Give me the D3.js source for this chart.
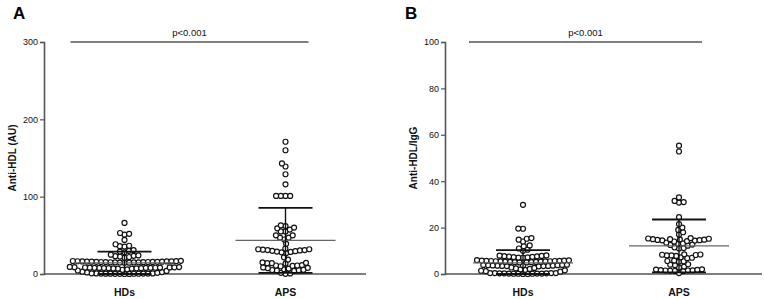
<!DOCTYPE html>
<html>
<head>
<meta charset="utf-8">
<script src="https://cdnjs.cloudflare.com/ajax/libs/d3/7.8.5/d3.min.js"></script>
<style>
  body { margin: 0; background: #fff; }
  svg { font-family: "Liberation Sans", Arial, sans-serif; }
</style>
</head>
<body>
<div id="chart"></div>
<script>
const groups = ["HDs", "APS"];

// panel A, anti-HDL (AU)
const hdsAU = [
  0, 0.1, 0.2, 0.2, 0.3, 0.3, 0.4, 0.4, 0.5, 0.5, 0.6, 0.7, 0.8, 0.9,
  1.5, 2, 2.5, 3, 4, 4.5, 5.5, 6,
  7, 7, 7.2, 7.3, 7.5, 7.5, 7.6, 7.8, 7.8, 8, 8, 8.1, 8.2, 8.3, 8.4, 8.5, 8.6, 8.8, 9, 9.2,
  14.5, 14.6, 14.8, 15, 15, 15.1, 15.2, 15.3, 15.4, 15.5, 15.5, 15.6, 15.7, 15.8, 16, 16,
  16.1, 16.2, 16.3, 16.4, 16.5, 16.6, 16.8, 17,
  21, 22, 22.5, 23, 23.5, 24, 25,
  28, 29, 30, 31,
  35.5, 36, 36.5, 38.5, 44, 51, 52, 53, 66
];
const apsAU = [
  0.2, 0.8, 1.5,
  4, 4.5, 5, 5.2, 5.5, 6, 7, 7.5, 8, 8.5,
  10, 10.5, 11, 11, 11.5, 13.5, 14, 14, 14.5, 15,
  27, 28, 28.5, 29, 29.5, 30, 30.5, 31, 31, 31.5, 32, 32, 33,
  18.6, 21.6,
  39, 44.6, 47, 47, 50, 50, 55, 55, 57.5, 59, 60, 62, 63,
  101, 101, 101, 101, 116, 129, 139, 143, 160, 171
];
const meanAU = [14.5, 43.5];
const sdAU = [14.5, 42];

// panel B, anti-HDL/IgG
const hdsIgG = [
  0, 0, 0.1, 0.1, 0.1, 0.2, 0.2, 0.2, 0.3, 0.3, 0.3, 0.4, 0.4, 0.4, 0.4,
  1, 1.2, 1.4, 1.6, 1.8, 2, 2.2, 2.4, 2.6, 2.8,
  3.3, 3.4, 3.4, 3.5, 3.5, 3.6, 3.6, 3.7, 3.7, 3.8, 3.8, 3.9, 3.9, 4,
  5, 5, 5.1, 5.1, 5.2, 5.2, 5.3, 5.3, 5.4, 5.4, 5.5, 5.5, 5.6, 5.6, 5.7, 5.7, 5.8, 5.8, 5.9, 6,
  7, 7.1, 7.2, 7.3, 7.4, 7.5, 7.6, 7.7, 7.8, 7.9, 8,
  10, 10.5, 11, 12, 12.3, 14, 14.8, 15.2, 15.5, 19.5, 19.6, 29.8
];
const apsIgG = [
  0.4,
  1.2, 1.3, 1.4, 1.5, 1.5, 1.6, 1.7, 1.8, 1.9, 2,
  2.8, 3.2, 3.8, 4, 4.2, 5.3, 5.5, 5.6, 5.8, 6.8, 7, 7.2,
  7.8, 8, 8, 8.2, 8.3, 8.4, 8.5,
  11, 11.2, 11.5, 12.2, 12.5, 12.7, 13, 13.2, 13.5,
  14, 14.2, 14.4, 14.5, 14.6, 14.7, 14.8, 14.9, 15, 15, 15.2, 15.3,
  15.5, 17, 18, 19, 20, 21.5, 24.5, 30.8, 31, 31.5, 33, 52.8, 55.3
];
const meanIgG = [4.8, 12.1];
const sdIgG = [5.5, 11.4];

const ticksAU = [0, 100, 200, 300];
const ticksIgG = [0, 20, 40, 60, 80, 100];

const panels = [
  { letter: "A", label: "Anti-HDL (AU)", values: [hdsAU, apsAU], mean: meanAU, sd: sdAU,
    ticks: ticksAU, max: 300, left: 44, right: 366, axisEnd: 366, labelX: 16, letterX: 13 },
  { letter: "B", label: "Anti-HDL/IgG", values: [hdsIgG, apsIgG], mean: meanIgG, sd: sdIgG,
    ticks: ticksIgG, max: 100, left: 445, right: 757, axisEnd: 762, labelX: 417, letterX: 405 }
];

const width = 765, height = 299, plotTop = 42, plotBottom = 274;
const r = 2.5, diam = 4.7;
const axisColor = "#555";

const svg = d3.select("#chart").append("svg")
  .attr("width", width)
  .attr("height", height);

// simple greedy beeswarm: each point goes as close to the centre as it can
function swarm(vals, y) {
  const placed = [];
  const sorted = vals.slice().sort((a, b) => a - b);
  sorted.forEach((v, i) => {
    const py = y(v);
    const near = placed.filter(p => Math.abs(p.y - py) < diam);
    const cands = [0];
    near.forEach(p => {
      const dx = Math.sqrt(diam * diam - (p.y - py) ** 2);
      cands.push(p.x + dx, p.x - dx);
    });
    const ok = cands.filter(c => near.every(p => (p.x - c) ** 2 + (p.y - py) ** 2 >= diam * diam - 0.01));
    const side = i % 2 ? 1 : -1;
    ok.sort((a, b) => Math.abs(a) - Math.abs(b) || side * (b - a));
    placed.push({ x: ok[0], y: py });
  });
  return placed;
}

panels.forEach(p => {
  const g = svg.append("g");

  const y = d3.scaleLinear().domain([0, p.max]).range([plotBottom, plotTop]);
  const x = d3.scaleBand().domain(groups).range([p.left, p.right]);

  // y axis
  const yAxis = g.append("g")
    .attr("transform", `translate(${p.left},0)`)
    .call(d3.axisLeft(y).tickValues(p.ticks).tickSize(4).tickPadding(2));
  yAxis.select(".domain").attr("stroke", axisColor).attr("stroke-width", 1.6);
  yAxis.selectAll(".tick line").attr("stroke", axisColor).attr("stroke-width", 1.2);
  yAxis.selectAll("text").attr("fill", "#111").style("font-size", "9px");

  // x axis
  g.append("line")
    .attr("x1", p.left).attr("x2", p.axisEnd)
    .attr("y1", plotBottom).attr("y2", plotBottom)
    .attr("stroke", axisColor).attr("stroke-width", 1.6);

  g.selectAll(".xlab")
    .data(groups)
    .join("text")
    .attr("x", d => x(d) + x.bandwidth() / 2)
    .attr("y", 296)
    .attr("text-anchor", "middle")
    .style("font-size", "10.5px")
    .style("font-weight", "bold")
    .attr("fill", "#111")
    .text(d => d);

  // axis title and panel letter
  g.append("text")
    .attr("transform", `translate(${p.labelX},${(plotTop + plotBottom) / 2}) rotate(-90)`)
    .attr("text-anchor", "middle")
    .style("font-size", "10px")
    .style("font-weight", "bold")
    .attr("fill", "#111")
    .text(p.label);

  g.append("text")
    .attr("x", p.letterX)
    .attr("y", 19)
    .style("font-size", "17px")
    .style("font-weight", "bold")
    .attr("fill", "#000")
    .text(p.letter);

  // significance bar
  const cx0 = x("HDs") + x.bandwidth() / 2, cx1 = x("APS") + x.bandwidth() / 2;
  g.append("line")
    .attr("x1", cx0 - 54).attr("x2", cx1 + 23)
    .attr("y1", y(p.max)).attr("y2", y(p.max))
    .attr("stroke", axisColor).attr("stroke-width", 1.5);
  g.append("text")
    .attr("x", (cx0 - 54 + cx1 + 23) / 2)
    .attr("y", y(p.max) - 6)
    .attr("text-anchor", "middle")
    .style("font-size", "9.5px")
    .attr("fill", "#111")
    .text("p<0.001");

  // dots
  groups.forEach((grp, gi) => {
    const cx = x(grp) + x.bandwidth() / 2;
    const pts = swarm(p.values[gi], y);
    g.append("g").selectAll("circle")
      .data(pts)
      .join("circle")
      .attr("cx", d => cx + d.x)
      .attr("cy", d => d.y)
      .attr("r", r)
      .attr("fill", "#fff")
      .attr("stroke", "#111")
      .attr("stroke-width", 1.2);

    const m = p.mean[gi], s = p.sd[gi];
    const lo = Math.max(0, m - s), hi = m + s;
    g.append("line")
      .attr("x1", cx - 50).attr("x2", cx + 50)
      .attr("y1", y(m)).attr("y2", y(m))
      .attr("stroke", "#666").attr("stroke-width", 1.3);
    g.append("line")
      .attr("x1", cx).attr("x2", cx)
      .attr("y1", y(lo)).attr("y2", y(hi))
      .attr("stroke", "#111").attr("stroke-width", 1.4);
    [lo, hi].forEach(v => {
      g.append("line")
        .attr("x1", cx - 27).attr("x2", cx + 27)
        .attr("y1", y(v)).attr("y2", y(v))
        .attr("stroke", "#111").attr("stroke-width", 1.8);
    });
  });
});
</script>
</body>
</html>
